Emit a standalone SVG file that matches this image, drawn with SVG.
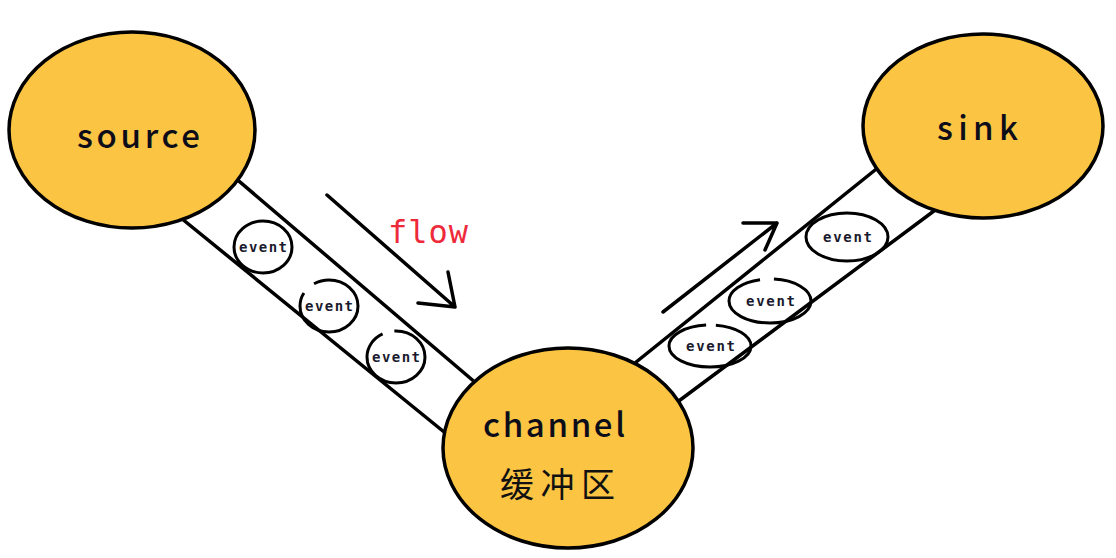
<svg xmlns="http://www.w3.org/2000/svg" width="1116" height="558" viewBox="0 0 1116 558">
<style>
.node{fill:#FBC443;stroke:#000;stroke-width:3.5}
.pipe{stroke:#000;stroke-width:3.5;fill:none;stroke-linecap:round}
.ev{fill:none;stroke:#000;stroke-width:3}
.evt{font-family:"DejaVu Sans Mono",monospace;font-weight:bold;font-size:14px;fill:#1a1a2e}
.lbl{font-family:"Noto Sans CJK SC","Noto Sans",sans-serif;font-weight:500;font-size:33px;fill:#0d0d1a}
.arr{stroke:#000;stroke-width:3.5;fill:none;stroke-linecap:round;stroke-linejoin:round}
</style>
<rect width="1116" height="558" fill="#fff"/>
<g id="connectors">
<line class="pipe" x1="220" y1="165" x2="490" y2="395"/>
<line class="pipe" x1="165" y1="205" x2="465" y2="449"/>
<line class="pipe" x1="620" y1="375" x2="890" y2="158"/>
<line class="pipe" x1="660" y1="415" x2="950" y2="199"/>
<g id="events-left">
<ellipse class="ev" cx="263" cy="247" rx="29" ry="26"/>
<text class="evt" x="239" y="252" textLength="48" lengthAdjust="spacing">event</text>
<ellipse class="ev" cx="329" cy="306" rx="29" ry="26" pathLength="100" stroke-dasharray="58 8 100"/>
<text class="evt" x="305" y="311" textLength="48" lengthAdjust="spacing">event</text>
<ellipse class="ev" cx="396" cy="357" rx="29" ry="26" pathLength="100" stroke-dasharray="67 7 100"/>
<text class="evt" x="372" y="362" textLength="48" lengthAdjust="spacing">event</text>
</g>
<g id="events-right">
<ellipse class="ev" cx="847" cy="237" rx="41" ry="24"/>
<text class="evt" x="823" y="242" textLength="49" lengthAdjust="spacing">event</text>
<ellipse class="ev" cx="770" cy="301" rx="41" ry="22" pathLength="100" stroke-dasharray="70 7 100"/>
<text class="evt" x="746" y="306" textLength="49" lengthAdjust="spacing">event</text>
<ellipse class="ev" cx="710" cy="346" rx="41" ry="21" pathLength="100" stroke-dasharray="73 5 100"/>
<text class="evt" x="686" y="351" textLength="49" lengthAdjust="spacing">event</text>
</g>
<g id="flow-arrow">
<path class="arr" d="M327 195 L455 307 M448 272 L455 307 L418 303"/>
<text x="388" y="243" font-family="DejaVu Sans Mono,monospace" font-size="32" fill="#ee2a3a" textLength="80" lengthAdjust="spacing">flow</text>
</g>
<g id="out-arrow">
<path class="arr" d="M663 312 L777 223 M743 223 L777 223 L765 250"/>
</g>
</g>
<g id="source">
<ellipse class="node" cx="132" cy="130" rx="123" ry="98"/>
<text class="lbl" x="77" y="148" textLength="123" lengthAdjust="spacing">source</text>
</g>
<g id="sink">
<ellipse class="node" cx="983" cy="126" rx="120" ry="92"/>
<text class="lbl" x="937" y="140" textLength="81" lengthAdjust="spacing">sink</text>
</g>
<g id="channel">
<ellipse class="node" cx="568" cy="448" rx="125" ry="100"/>
<text class="lbl" x="483" y="437" textLength="142" lengthAdjust="spacing">channel</text>
<text x="500" y="497" font-family="Noto Sans CJK SC,sans-serif" font-size="34" fill="#111" textLength="115" lengthAdjust="spacing">缓冲区</text>
</g>
</svg>
